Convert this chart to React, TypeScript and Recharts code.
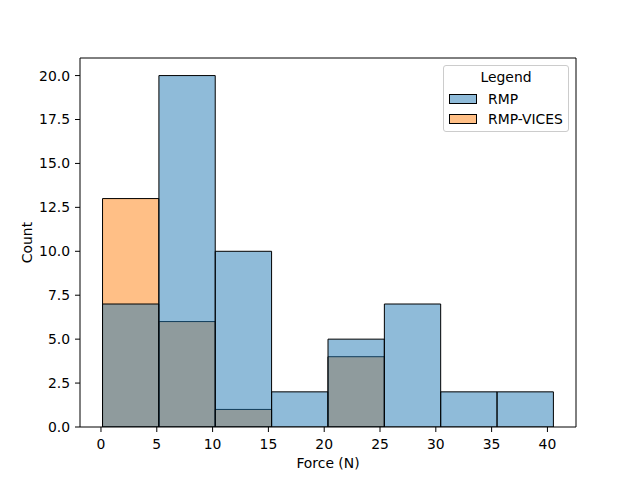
import { Bar, ComposedChart, Legend, ReferenceLine, XAxis, YAxis } from "recharts";

// Histogram of force readings, RMP vs RMP-VICES (layered, alpha 0.5).
const binEdges = [0.14, 5.19, 10.24, 15.29, 20.34, 25.39, 30.44, 35.49, 40.54];
const rmpCounts = [7, 20, 10, 2, 5, 7, 2, 2];
const vicesCounts = [13, 6, 1, 0, 4, 0, 0, 0];
const xTicks = [0, 5, 10, 15, 20, 25, 30, 35, 40];
const yTicks = [0, 2.5, 5, 7.5, 10, 12.5, 15, 17.5, 20];
const seriesNames = ["RMP", "RMP-VICES"];
const seriesColors = ["#1f77b4", "#ff7f0e"];

const X_DOMAIN: [number, number] = [-1.88, 42.56];
const Y_DOMAIN: [number, number] = [0, 21];
const PLOT_W = 496;
const FONT = 13.9;

const data = rmpCounts.map((count, i) => ({
  center: (binEdges[i] + binEdges[i + 1]) / 2,
  rmp: count,
  vices: vicesCounts[i],
}));

// a hair under the band size, otherwise recharts falls back to 90% width
const binWidth = binEdges[1] - binEdges[0];
const barSize = (binWidth / (X_DOMAIN[1] - X_DOMAIN[0])) * PLOT_W - 0.05;

function XTitle({ viewBox }: any) {
  return (
    <text
      x={viewBox.x + viewBox.width / 2}
      y={463}
      textAnchor="middle"
      dominantBaseline="central"
      fontSize={FONT}
      fill="#000"
    >
      Force (N)
    </text>
  );
}

function YTitle({ viewBox }: any) {
  const cy = viewBox.y + viewBox.height / 2;
  return (
    <text
      x={27}
      y={cy}
      transform={`rotate(-90 27 ${cy})`}
      textAnchor="middle"
      dominantBaseline="central"
      fontSize={FONT}
      fill="#000"
    >
      Count
    </text>
  );
}

const patchFills = ["rgba(31,119,180,0.5)", "rgba(255,127,14,0.5)"];

function LegendBox() {
  return (
    <div
      style={{
        position: "relative",
        boxSizing: "border-box",
        width: 126,
        height: 67,
        border: "1px solid #cccccc",
        borderRadius: 3,
        background: "rgba(255,255,255,0.8)",
        fontSize: FONT,
        color: "#000",
      }}
    >
      <div
        style={{
          position: "absolute",
          left: 0,
          right: 0,
          top: 2,
          textAlign: "center",
          lineHeight: "18px",
        }}
      >
        Legend
      </div>
      {seriesNames.map((name, i) => (
        <div
          key={name}
          style={{ position: "absolute", left: 5, top: 24 + i * 20, height: 18, display: "flex", alignItems: "center" }}
        >
          <span
            style={{
              display: "inline-block",
              boxSizing: "border-box",
              width: 28,
              height: 10,
              border: "1px solid #000",
              backgroundColor: patchFills[i],
            }}
          />
          <span style={{ marginLeft: 11, lineHeight: "18px", whiteSpace: "nowrap" }}>{name}</span>
        </div>
      ))}
    </div>
  );
}

export default function App() {
  return (
    <div
      style={{
        position: "absolute",
        left: 0,
        top: 0,
        width: 640,
        height: 480,
        background: "#fff",
        fontFamily: "'DejaVu Sans', sans-serif",
      }}
    >
      <ComposedChart
        width={640}
        height={480}
        data={data}
        margin={{ top: 58, right: 64, bottom: 0, left: 0 }}
        barGap={0}
        barCategoryGap={0}
      >
        <XAxis
          xAxisId="rmp"
          dataKey="center"
          type="number"
          domain={X_DOMAIN}
          ticks={xTicks}
          allowDataOverflow
          height={53}
          stroke="#000"
          tickSize={5}
          tickMargin={7}
          tick={{ fill: "#000", fontSize: FONT }}
          label={<XTitle />}
        />
        <XAxis xAxisId="vices" dataKey="center" type="number" domain={X_DOMAIN} allowDataOverflow hide />
        <YAxis
          yAxisId="count"
          type="number"
          domain={Y_DOMAIN}
          ticks={yTicks}
          allowDataOverflow
          width={80}
          stroke="#000"
          tickSize={5}
          tickMargin={5}
          tick={{ fill: "#000", fontSize: FONT }}
          tickFormatter={(v: number) => v.toFixed(1)}
          label={<YTitle />}
        />
        <Legend
          layout="horizontal"
          verticalAlign="middle"
          align="center"
          content={<LegendBox />}
          wrapperStyle={{ left: 443, top: 65, width: 126, height: 67 }}
        />
        <Bar
          xAxisId="vices"
          yAxisId="count"
          dataKey="vices"
          name={seriesNames[1]}
          barSize={barSize}
          fill={seriesColors[1]}
          fillOpacity={0.5}
          stroke="#000"
          strokeWidth={1}
          isAnimationActive={false}
        />
        <Bar
          xAxisId="rmp"
          yAxisId="count"
          dataKey="rmp"
          name={seriesNames[0]}
          barSize={barSize}
          fill={seriesColors[0]}
          fillOpacity={0.5}
          stroke="#000"
          strokeWidth={1}
          isAnimationActive={false}
        />
        {/* top and right spines */}
        <ReferenceLine xAxisId="rmp" yAxisId="count" y={Y_DOMAIN[1]} stroke="#000" strokeWidth={1} />
        <ReferenceLine xAxisId="rmp" yAxisId="count" x={X_DOMAIN[1]} stroke="#000" strokeWidth={1} />
      </ComposedChart>
    </div>
  );
}
